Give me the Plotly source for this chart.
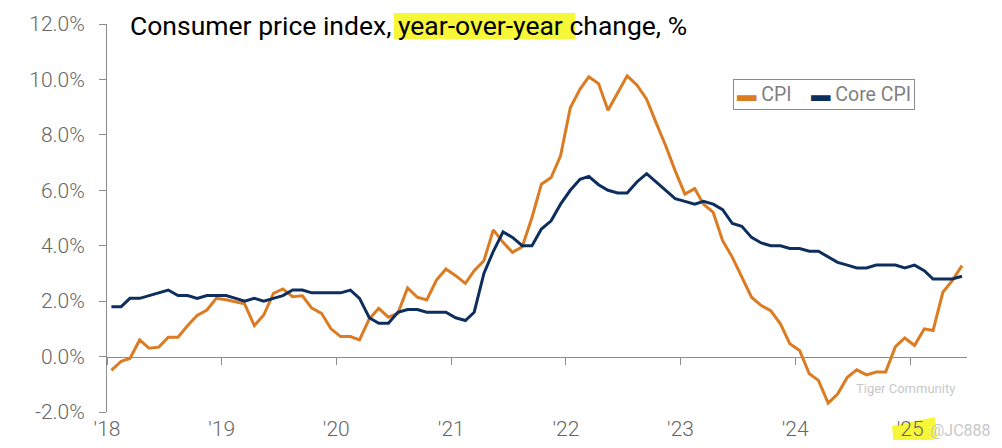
import plotly.graph_objects as go
import pandas as pd

# ---- data (monthly, Jan 2018 - Jun 2025) ----
start_month = "2018-01-01"
n_months = 90
cpi = [
    -0.5, -0.17, -0.07, 0.6, 0.3, 0.34, 0.7, 0.7, 1.12, 1.48, 1.68, 2.1,
    2.05, 1.98, 1.9, 1.12, 1.5, 2.28, 2.44, 2.16, 2.19, 1.75, 1.56, 1.0,
    0.72, 0.72, 0.6, 1.36, 1.74, 1.42, 1.56, 2.48, 2.14, 2.04, 2.76, 3.16,
    2.92, 2.64, 3.1, 3.46, 4.57, 4.12, 3.76, 3.96, 5.02, 6.22, 6.46, 7.24,
    8.98, 9.65, 10.09, 9.85, 8.89, 9.52, 10.13, 9.8, 9.29, 8.44, 7.6, 6.7,
    5.86, 6.06, 5.5, 5.2, 4.18, 3.58, 2.86, 2.14, 1.84, 1.66, 1.18, 0.46,
    0.22, -0.62, -0.86, -1.68, -1.35, -0.75, -0.48, -0.66, -0.56, -0.56, 0.36, 0.67,
    0.4, 1.0, 0.94, 2.32, 2.74, 3.28,
]
core_cpi = [
    1.8, 1.8, 2.1, 2.1, 2.2, 2.3, 2.4, 2.2, 2.2, 2.1, 2.2, 2.2,
    2.2, 2.1, 2.0, 2.1, 2.0, 2.1, 2.2, 2.4, 2.4, 2.3, 2.3, 2.3,
    2.3, 2.4, 2.1, 1.4, 1.2, 1.2, 1.6, 1.7, 1.7, 1.6, 1.6, 1.6,
    1.4, 1.3, 1.6, 3.0, 3.8, 4.5, 4.3, 4.0, 4.0, 4.6, 4.9, 5.5,
    6.0, 6.4, 6.5, 6.2, 6.0, 5.9, 5.9, 6.3, 6.6, 6.3, 6.0, 5.7,
    5.6, 5.5, 5.6, 5.5, 5.3, 4.8, 4.7, 4.3, 4.1, 4.0, 4.0, 3.9,
    3.9, 3.8, 3.8, 3.6, 3.4, 3.3, 3.2, 3.2, 3.3, 3.3, 3.3, 3.2,
    3.3, 3.1, 2.8, 2.8, 2.8, 2.9,
]
year_ticks = ["2018-01-01", "2019-01-01", "2020-01-01", "2021-01-01",
              "2022-01-01", "2023-01-01", "2024-01-01", "2025-01-01"]
year_labels = ["'18", "'19", "'20", "'21", "'22", "'23", "'24", "'25"]
y_ticks = [-2, 0, 2, 4, 6, 8, 10, 12]
y_labels = ["-2.0%", "0.0%", "2.0%", "4.0%", "6.0%", "8.0%", "10.0%", "12.0%"]
series_names = ["CPI", "Core CPI"]
title_parts = ["Consumer price index, ", "year-over-year", " change, %"]

ORANGE = "#DB7B22"
NAVY = "#0E2F5E"
GRAY = "#8C8C8C"
LABEL = "#666666"
FONT = "Roboto"

months = pd.date_range(start_month, periods=n_months, freq="MS") + pd.Timedelta(days=14)
x_end = pd.date_range(start_month, periods=n_months + 1, freq="MS")[-1]

fig = go.Figure()
fig.add_trace(go.Scatter(x=months, y=cpi, name=series_names[0], mode="lines",
                         line=dict(color=ORANGE, width=3), showlegend=False))
fig.add_trace(go.Scatter(x=months, y=core_cpi, name=series_names[1], mode="lines",
                         line=dict(color=NAVY, width=3), showlegend=False))

# page has an 8px body margin; figure sized to sit inside it
OFF = 8
W, H = 1002 - 2 * OFF, 448 - 2 * OFF
PL, PR, PT, PB = 107, 967, 24, 412          # plot area in page pixels
ml, mr, mt, mb = PL - OFF, (OFF + W) - PR, PT - OFF, (OFF + H) - PB
pw, ph = PR - PL, PB - PT


def px(x):
    return (x - PL) / pw


def py(y):
    return (PB - y) / ph


fig.update_layout(
    width=W, height=H, autosize=False,
    margin=dict(l=ml, r=mr, t=mt, b=mb, pad=0),
    paper_bgcolor="white", plot_bgcolor="white",
    font=dict(family=FONT, color=LABEL),
    xaxis=dict(
        type="date", range=[start_month, x_end], automargin=False,
        anchor="free", position=(0 - y_ticks[0]) / (y_ticks[-1] - y_ticks[0]),
        showline=True, linecolor=GRAY, linewidth=1,
        ticks="outside", ticklen=7, tickcolor=GRAY, tickwidth=1,
        tickvals=year_ticks, ticktext=year_labels,
        ticklabelstandoff=46,
        tickfont=dict(size=21, color=LABEL, family=FONT, weight=300),
        showgrid=False, zeroline=False,
    ),
    yaxis=dict(
        range=[y_ticks[0], y_ticks[-1]], automargin=False,
        showline=True, linecolor=GRAY, linewidth=1,
        ticks="outside", ticklen=7, tickcolor=GRAY, tickwidth=1,
        tickvals=y_ticks, ticktext=y_labels,
        ticklabelstandoff=10,
        tickfont=dict(size=21, color=LABEL, family=FONT, weight=300),
        showgrid=False, zeroline=False,
    ),
)

# title with highlighted phrase
fig.add_shape(type="rect", xref="paper", yref="paper", layer="below",
              x0=px(394), x1=px(575), y0=py(39), y1=py(13),
              fillcolor="#F7F73A", line=dict(width=0))
fig.add_annotation(xref="paper", yref="paper", x=px(128), y=py(26),
                   xanchor="left", yanchor="middle", showarrow=False,
                   text="".join(title_parts),
                   font=dict(family=FONT, size=26.5, color="#000000"))

# legend box (manual)
fig.add_annotation(
    xref="paper", yref="paper", x=px(733), y=py(79), xanchor="left", yanchor="top",
    showarrow=False, bordercolor=GRAY, borderwidth=1, borderpad=3, bgcolor="white",
    text=(f"<span style='color:{ORANGE}'>▬</span> {series_names[0]}    "
          f"<span style='color:{NAVY}'>▬</span> {series_names[1]}"),
    font=dict(family=FONT, size=19.5, color="#7F7F7F"),
)

# highlight on '25 label
fig.add_shape(type="path", xref="paper", yref="paper", layer="below",
              path=(f"M{px(892)},{py(426)} L{px(935)},{py(417)} "
                    f"L{px(937)},{py(439)} L{px(894)},{py(446)} Z"),
              fillcolor="#F7F73A", line=dict(width=0))

# watermark
fig.add_annotation(xref="paper", yref="paper", x=px(905), y=py(388),
                   xanchor="center", yanchor="middle", showarrow=False,
                   text="Tiger Community", font=dict(family=FONT, size=13, color="#C8C8C8"))
fig.add_annotation(xref="paper", yref="paper", x=px(928), y=py(430),
                   xanchor="left", yanchor="middle", showarrow=False,
                   text="@JC888", font=dict(family=FONT, size=16, color="#C8C8C8"))

fig.write_html("out.html")
